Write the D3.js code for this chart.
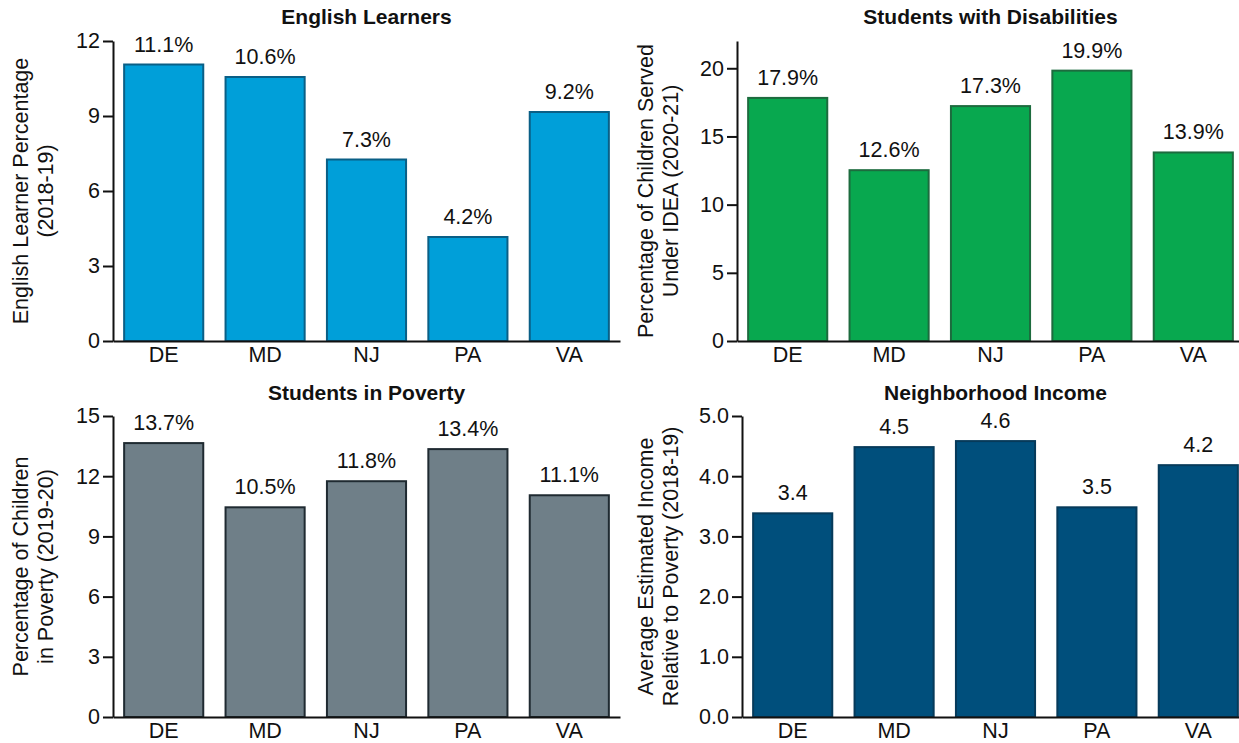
<!DOCTYPE html>
<html>
<head>
<meta charset="utf-8">
<script src="https://cdn.jsdelivr.net/npm/d3@7"></script>
<style>
  html, body { margin: 0; padding: 0; background: #fff; }
  svg { display: block; font-family: "Liberation Sans", Arial, Helvetica, sans-serif; }
</style>
</head>
<body>
<svg id="chart" width="1239" height="743"></svg>
<script>
// State categories shared by every panel
const states = ["DE", "MD", "NJ", "PA", "VA"];

// Series values
const englishLearners = [11.1, 10.6, 7.3, 4.2, 9.2];
const disabilities = [17.9, 12.6, 17.3, 19.9, 13.9];
const poverty = [13.7, 10.5, 11.8, 13.4, 11.1];
const income = [3.4, 4.5, 4.6, 3.5, 4.2];

// Tick values for each y axis
const englishTicks = [0, 3, 6, 9, 12];
const disabilityTicks = [0, 5, 10, 15, 20];
const povertyTicks = [0, 3, 6, 9, 12, 15];
const incomeTicks = [0, 1, 2, 3, 4, 5];

const FONT = 21.5;

const panels = [
  {
    title: "English Learners",
    values: englishLearners, ticks: englishTicks, max: 12,
    tickFmt: d3.format("d"), labelFmt: v => v.toFixed(1) + "%",
    yTitle: ["English Learner Percentage", "(2018-19)"],
    fill: "#009fd9", stroke: "#0a5f86",
    left: 113, top: 41, bottom: 341, titleY: 24, axisTitleX: 28
  },
  {
    title: "Students with Disabilities",
    values: disabilities, ticks: disabilityTicks, max: 22,
    tickFmt: d3.format("d"), labelFmt: v => v.toFixed(1) + "%",
    yTitle: ["Percentage of Children Served", "Under IDEA (2020-21)"],
    fill: "#08a84f", stroke: "#1d6b3e",
    left: 737, top: 41, bottom: 341, titleY: 24, axisTitleX: 653
  },
  {
    title: "Students in Poverty",
    values: poverty, ticks: povertyTicks, max: 15,
    tickFmt: d3.format("d"), labelFmt: v => v.toFixed(1) + "%",
    yTitle: ["Percentage of Children", "in Poverty (2019-20)"],
    fill: "#6f7f88", stroke: "#1f2a31",
    left: 113, top: 416, bottom: 717, titleY: 400, axisTitleX: 28
  },
  {
    title: "Neighborhood Income",
    values: income, ticks: incomeTicks, max: 5,
    tickFmt: d3.format(".1f"), labelFmt: v => v.toFixed(1),
    yTitle: ["Average Estimated Income", "Relative to Poverty (2018-19)"],
    fill: "#004f7c", stroke: "#063a5a",
    left: 742, top: 416, bottom: 717, titleY: 400, axisTitleX: 653
  }
];

const plotWidth = 507;
const svg = d3.select("#chart");

panels.forEach(p => {
  const g = svg.append("g");
  const right = p.left + plotWidth;

  const x = d3.scaleBand()
    .domain(states)
    .range([p.left, right])
    .paddingInner(0.2)
    .paddingOuter(0.1);

  const y = d3.scaleLinear()
    .domain([0, p.max])
    .range([p.bottom, p.top]);

  // Bars
  g.selectAll("rect.bar")
    .data(p.values)
    .join("rect")
    .attr("class", "bar")
    .attr("x", (d, i) => x(states[i]) + 1)
    .attr("width", x.bandwidth() - 2)
    .attr("y", d => y(d) + 1)
    .attr("height", d => y(0) - y(d) - 1)
    .attr("fill", p.fill)
    .attr("stroke", p.stroke)
    .attr("stroke-width", 2);

  // Value labels
  g.selectAll("text.value")
    .data(p.values)
    .join("text")
    .attr("class", "value")
    .attr("x", (d, i) => x(states[i]) + x.bandwidth() / 2)
    .attr("y", d => y(d) - 12)
    .attr("text-anchor", "middle")
    .attr("font-size", FONT)
    .attr("fill", "#111")
    .text(d => p.labelFmt(d));

  // Y axis
  const yAxis = g.append("g")
    .attr("transform", `translate(${p.left},0)`)
    .call(d3.axisLeft(y).tickValues(p.ticks).tickFormat(p.tickFmt)
      .tickSize(10).tickSizeOuter(0).tickPadding(3));
  yAxis.select(".domain").attr("stroke", "#111").attr("stroke-width", 2);
  yAxis.selectAll(".tick line").attr("stroke", "#111").attr("stroke-width", 2);
  yAxis.selectAll(".tick text")
    .attr("font-size", FONT).attr("fill", "#111")
    .attr("font-family", "Liberation Sans, Arial, sans-serif");

  // X axis
  const xAxis = g.append("g")
    .attr("transform", `translate(0,${p.bottom})`)
    .call(d3.axisBottom(x).tickSize(0).tickSizeOuter(0).tickPadding(6));
  xAxis.select(".domain").attr("stroke", "#111").attr("stroke-width", 2);
  xAxis.selectAll(".tick text")
    .attr("font-size", FONT).attr("fill", "#111")
    .attr("font-family", "Liberation Sans, Arial, sans-serif");

  // Panel title
  g.append("text")
    .attr("x", p.left + plotWidth / 2)
    .attr("y", p.titleY)
    .attr("text-anchor", "middle")
    .attr("font-size", 21)
    .attr("font-weight", "bold")
    .attr("fill", "#111")
    .text(p.title);

  // Rotated y-axis title on two lines
  const midY = (p.top + p.bottom) / 2;
  const yt = g.append("text")
    .attr("transform", `translate(${p.axisTitleX},${midY}) rotate(-90)`)
    .attr("text-anchor", "middle")
    .attr("font-size", FONT)
    .attr("fill", "#111");
  p.yTitle.forEach((line, i) => {
    yt.append("tspan")
      .attr("x", 0)
      .attr("dy", i === 0 ? 0 : 25)
      .text(line);
  });
});
</script>
</body>
</html>
